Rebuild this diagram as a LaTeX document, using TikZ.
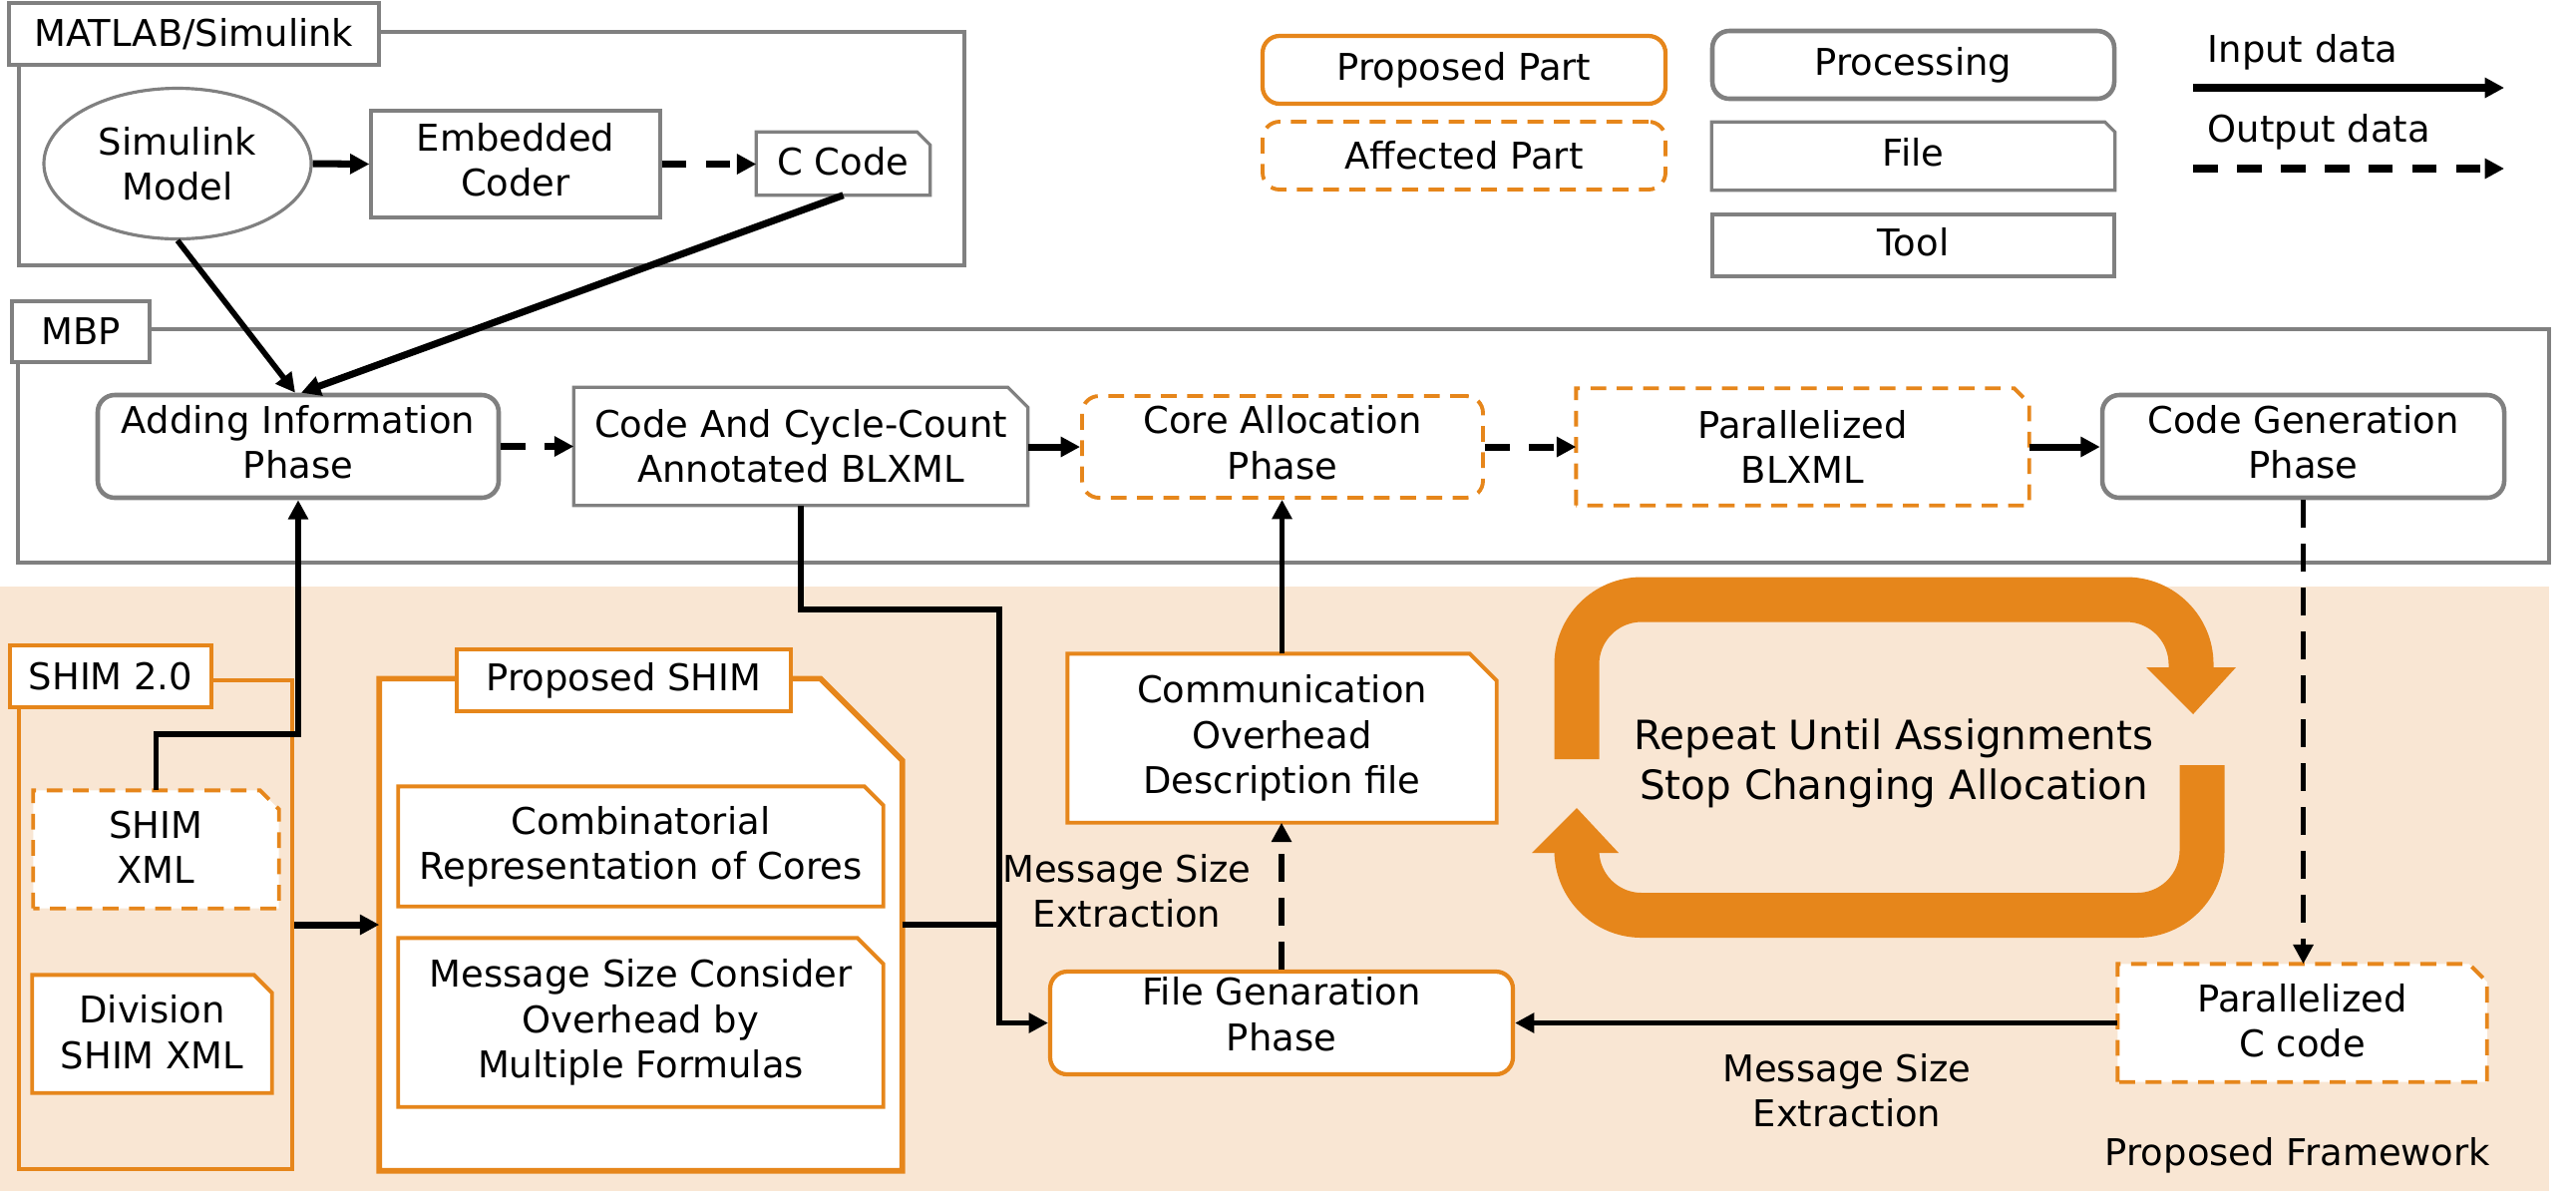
\documentclass[tikz,border=0pt]{standalone}
\usepackage{fontspec}
\setmainfont{DejaVu Sans}
\usetikzlibrary{arrows.meta,calc,shapes.geometric}
\definecolor{org}{HTML}{E6861B}
\definecolor{peach}{HTML}{F9E6D3}
\definecolor{gry}{HTML}{808080}
\pgfdeclarelayer{back}\pgfdeclarelayer{mid}\pgfsetlayers{back,mid,main}
\newcommand{\fileshape}[3]{%
  \begin{pgfonlayer}{mid}
  \path[#1] (#2.south west) -- (#2.north west) -- ($(#2.north east)+(-#3,0)$) -- ($(#2.north east)+(0,#3)$) -- (#2.south east) -- cycle;
  \end{pgfonlayer}}
\tikzset{
  sz/.style 2 args={minimum width=#1*0.01cm,minimum height=#2*0.01cm},
  txt/.style={font=\fontsize{10.5}{12.9}\selectfont, align=center, inner sep=0pt},
  frame/.style={draw=gry, line width=0.9pt, inner sep=0pt},
  oframe/.style={draw=org, line width=1pt, inner sep=0pt},
  graybox/.style={txt, draw=gry, line width=0.9pt, fill=white},
  obox/.style={txt, draw=org, line width=1.1pt, fill=white},
  grayround/.style={txt, draw=gry, line width=1.3pt, fill=white, rounded corners=0.17cm},
  oround/.style={txt, draw=org, line width=1.2pt, fill=white, rounded corners=0.17cm},
  odround/.style={txt, draw=org, line width=1.1pt, fill=white, rounded corners=0.17cm, dash pattern=on 4.5pt off 3pt},
  raise/.style={text depth=#1*0.01cm},
  filetxt/.style={txt},
  grayfile/.style={draw=gry, line width=0.9pt, fill=white},
  ofile/.style={draw=org, line width=1.1pt, fill=white},
  odfile/.style={draw=org, line width=1.1pt, fill=white, dash pattern=on 4.5pt off 3pt},
  bigfile/.style={draw=org, line width=1.6pt, fill=white},
  tip/.style={-{Triangle[length=5.5pt,width=5.5pt]}},
  conn/.style={line width=1.6pt, tip},
  thk/.style={line width=2pt, tip},
  thkdash/.style={line width=2pt, tip, dash pattern=on 7pt off 5.5pt},
  dconn/.style={line width=1.5pt, tip, dash pattern=on 8pt off 4.5pt},
  plain/.style={line width=1.6pt},
  bigarrow/.style={draw=org, line width=0.45cm, rounded corners=0.65cm},
}
\begin{document}
\begin{tikzpicture}[x=0.01cm, y=-0.01cm]
\useasboundingbox (0,0) rectangle (2583,1202);
% backgrounds and frames
\begin{pgfonlayer}{back}
\fill[peach] (0,588) rectangle (2556,1194);
\node[frame, sz={948}{234}] (matf) at (493,149) {};
\node[frame, sz={2538}{234}] (mbpf) at (1287,447) {};
\node[oframe, sz={274}{490}] (shimf) at (156,927) {};
\end{pgfonlayer}
% frame labels
\node[graybox, sz={371}{62}] (matl) at (194.5,34) {MATLAB/Simulink};
\node[graybox, sz={138}{61}] (mbpl) at (81,332.5) {MBP};
% MATLAB part
\node[txt, draw=gry, line width=0.9pt, fill=white, ellipse, sz={268}{151}] (sim) at (178,164) {Simulink\\Model};
\node[graybox, sz={290}{107}, raise=9] (emb) at (517,164.5) {Embedded\\Coder};
\node[filetxt, sz={173}{62}, raise=5] (ccode) at (845.5,164) {C Code};
\fileshape{grayfile}{ccode}{13}
% MBP part
\node[grayround, sz={402}{103}, raise=9] (add) at (299,447.5) {Adding Information\\Phase};
\node[filetxt, sz={454}{117}] (cca) at (803,447.5) {Code And Cycle-Count\\Annotated BLXML};
\fileshape{grayfile}{cca}{20}
\node[odround, sz={402}{102}, raise=9] (core) at (1286,448) {Core Allocation\\Phase};
\node[filetxt, sz={453}{116}] (pbl) at (1807.5,448) {Parallelized\\BLXML};
\fileshape{odfile}{pbl}{15}
\node[grayround, sz={403}{103}, raise=9] (cg) at (2309.5,447.5) {Code Generation\\Phase};
% SHIM part
\node[obox, sz={202}{62}] (shiml) at (111,678) {SHIM 2.0};
\node[filetxt, sz={245}{117}, raise=4] (shimxml) at (156.5,851.5) {SHIM\\XML};
\fileshape{odfile}{shimxml}{19}
\node[filetxt, sz={239}{117}, raise=4] (div) at (152.5,1036.5) {Division\\SHIM XML};
\fileshape{ofile}{div}{18}
\node[filetxt, sz={523}{492}] (props) at (642.5,927) {};
\fileshape{bigfile}{props}{82}
\node[obox, sz={335}{62}] (propl) at (625.5,682) {Proposed SHIM};
\node[filetxt, sz={485}{119}] (comb) at (642.5,848.5) {Combinatorial\\Representation of Cores};
\fileshape{ofile}{comb}{19}
\node[filetxt, sz={485}{168}] (msg) at (642.5,1025) {Message Size Consider\\Overhead by\\Multiple Formulas};
\fileshape{ofile}{msg}{26}
% lower middle
\node[oround, sz={464}{103}, raise=18] (fg) at (1285,1025.5) {File Genaration\\Phase};
\node[filetxt, sz={429}{168}] (comm) at (1285.5,740) {Communication\\Overhead\\Description file};
\fileshape{ofile}{comm}{27}
\node[filetxt, sz={369}{117}, raise=5] (pcc) at (2308.5,1025.5) {Parallelized\\C code};
\fileshape{odfile}{pcc}{18}
\node[txt] (mse1) at (1130,893) {Message Size\\Extraction};
\node[txt] (mse2) at (1852,1093) {Message Size\\Extraction};
\node[txt] (pf) at (2304,1158) {Proposed Framework};
% big cycle arrow
\draw[bigarrow] (1581,761) -- (1581,601) -- (2197,601) -- (2197,671);
\fill[org] (2152,669) -- (2242,669) -- (2199,716) -- cycle;
\draw[bigarrow] (2208,767) -- (2208,917.5) -- (1581,917.5) -- (1581,853);
\fill[org] (1536,855) -- (1623,855) -- (1581,810) -- cycle;
\node[txt, font=\fontsize{11.5}{14.2}\selectfont] (rep) at (1899,765) {Repeat Until Assignments\\Stop Changing Allocation};
% legend
\node[oround, sz={404}{68}] (lprop) at (1468,70) {Proposed Part};
\node[odround, sz={404}{68}] (laff) at (1468,156) {Affected Part};
\node[grayround, sz={403}{68}] (lproc) at (1918.5,65) {Processing};
\node[filetxt, sz={403}{67}, raise=8] (lfile) at (1918.5,156.5) {File};
\fileshape{grayfile}{lfile}{10}
\node[graybox, sz={403}{62}, raise=8] (ltool) at (1918.5,246) {Tool};
\node[txt, anchor=west] (lin) at (2213,52) {Input data};
\node[txt, anchor=west] (lout) at (2213,132) {Output data};
\coordinate (li1) at (2199,88);
\coordinate (li2) at (2511,88);
\coordinate (lo1) at (2199,169);
\coordinate (lo2) at (2511,169);
\draw[thk] (li1) -- (li2);
\draw[thkdash] (lo1) -- (lo2);
% connectors
\draw[thk] (sim.east) -- (emb.west);
\draw[thkdash] (emb.east) -- (emb.east -| ccode.west);
\draw[conn] (sim.south) -- ([xshift=-0.03cm]add.north);
\draw[thk] (ccode.south) -- ([xshift=0.03cm]add.north);
\draw[thkdash] (add.east) -- (add.east -| cca.west);
\draw[thk] (cca.east |- core.west) -- (core.west);
\draw[thkdash] (core.east) -- (core.east -| pbl.west);
\draw[thk] (pbl.east) -- (pbl.east -| cg.west);
\draw[dconn] (cg.south) -- (cg.south |- pcc.north);
\draw[conn] (pcc.west) -- (pcc.west -| fg.east);
\draw[dconn] (fg.north) -- (fg.north |- comm.south);
\draw[conn] (comm.north) -- (comm.north |- core.south);
\path (add.south) ++(0,235) coordinate (j1);
\draw[conn] (shimxml.north) |- (j1) -- (add.south);
\draw[thk] (shimf.east |- props.west) -- (props.west);
\coordinate (j2) at (1002,611);
\draw[conn] (cca.south) |- (j2) |- (fg.west);
\draw[plain] (props.east) -- (props.east -| j2);
\end{tikzpicture}
\end{document}
